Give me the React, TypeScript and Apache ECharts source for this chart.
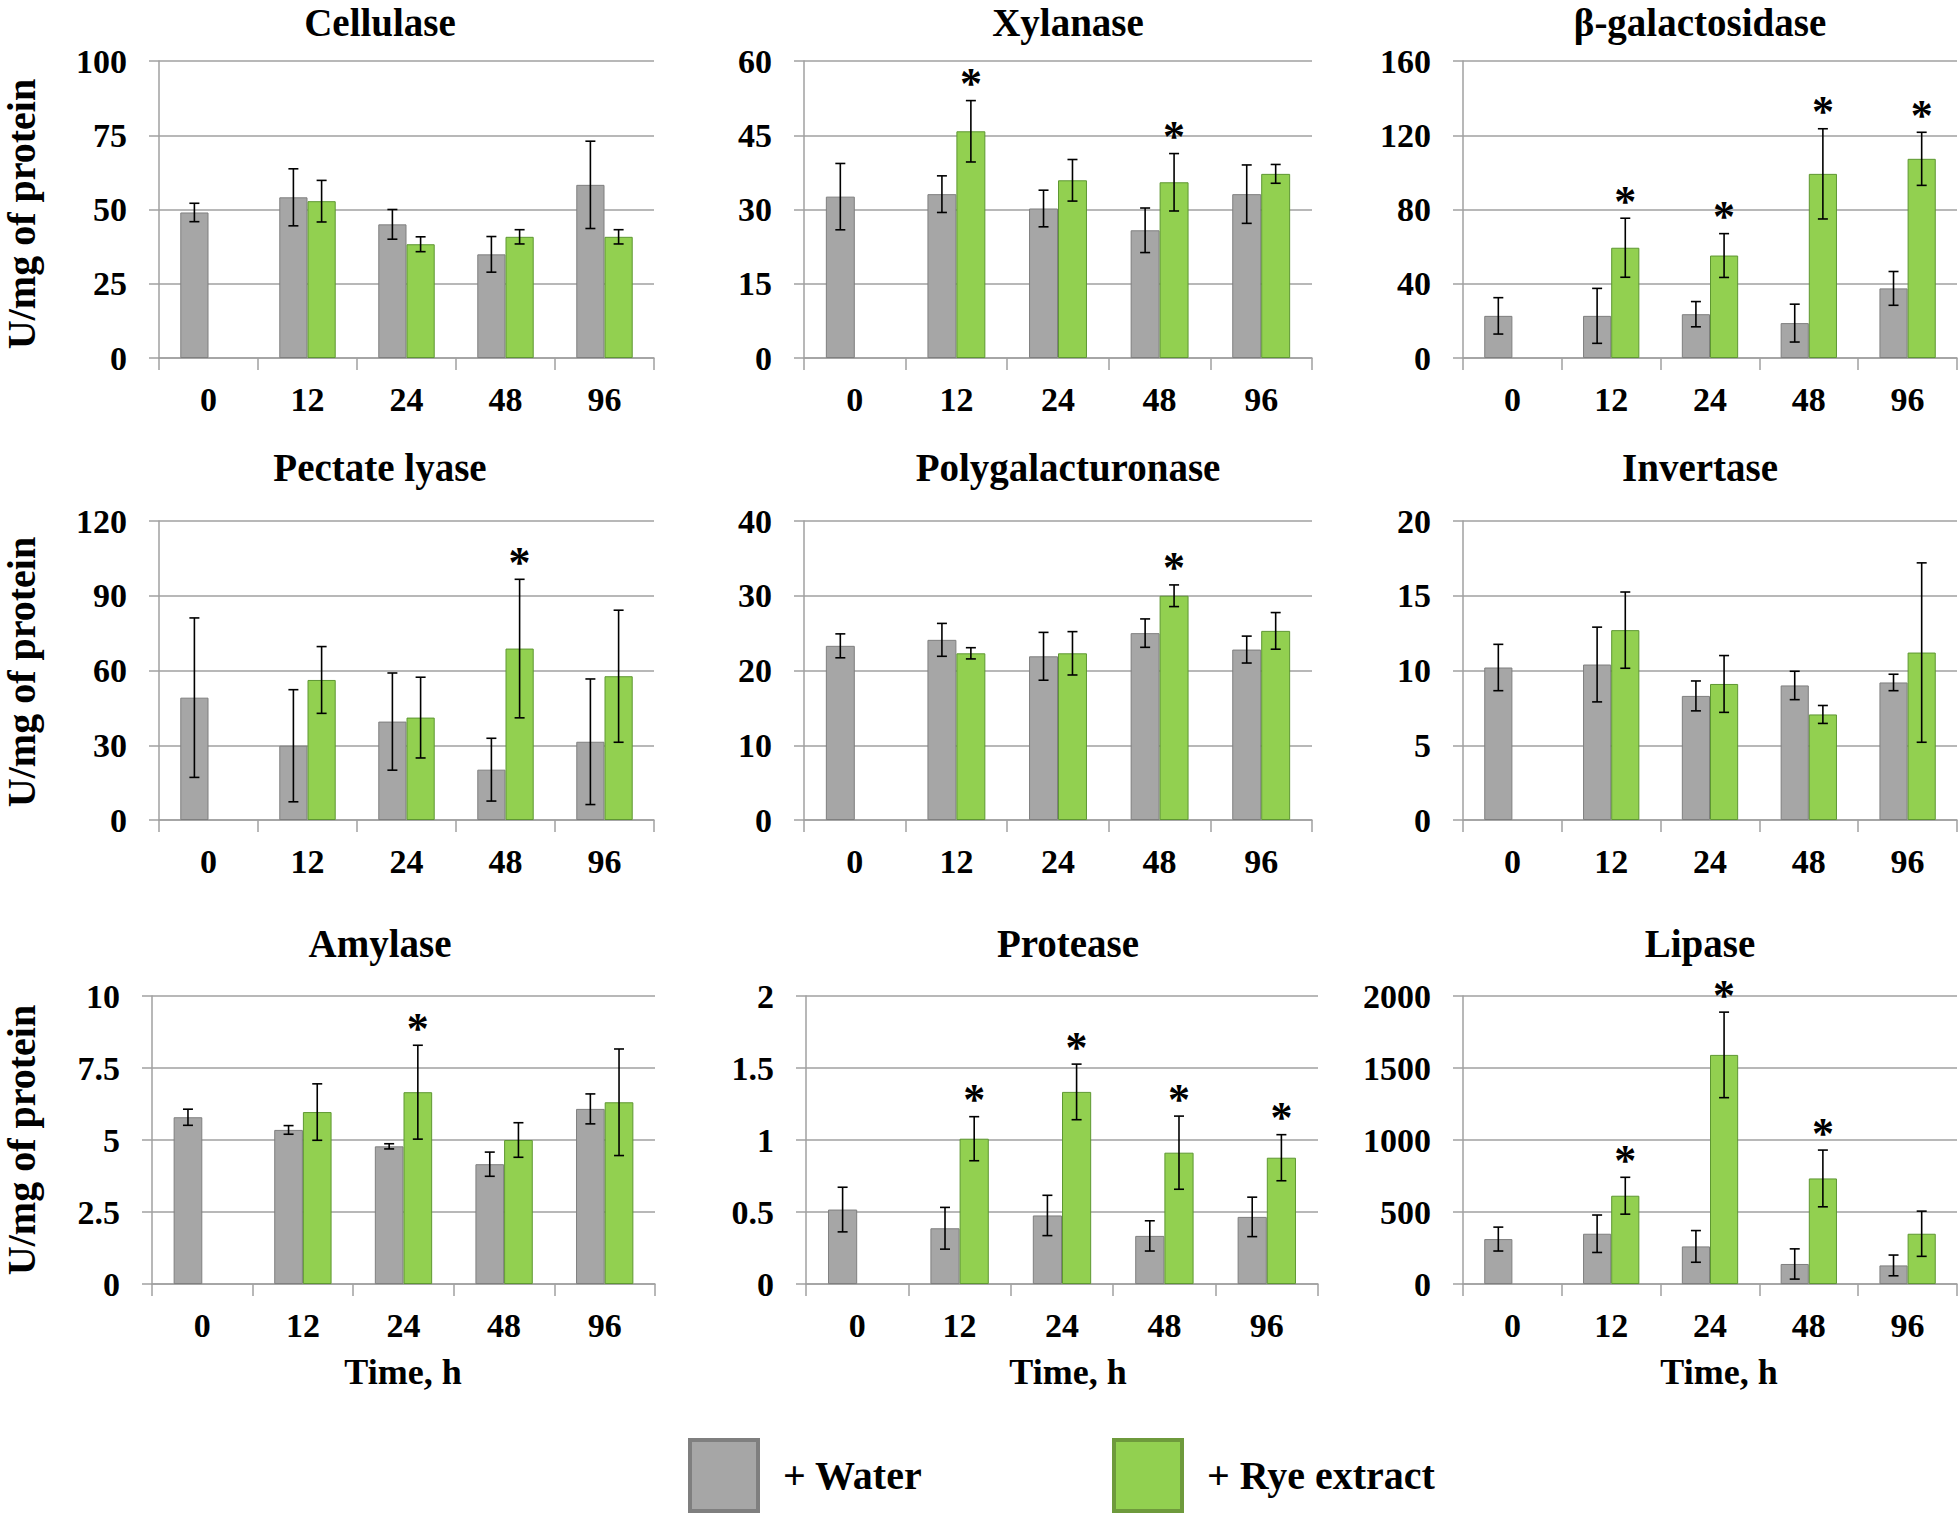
import React, { useEffect, useRef } from 'react';
import * as echarts from 'echarts';

// ---------- data ----------
const timeLabels = ['0', '12', '24', '48', '96'];
const enzymeNames = [
  'Cellulase', 'Xylanase', 'β-galactosidase',
  'Pectate lyase', 'Polygalacturonase', 'Invertase',
  'Amylase', 'Protease', 'Lipase',
];
const yMax = [100, 60, 160, 120, 40, 20, 10, 2, 2000];
const yInterval = [25, 15, 40, 30, 10, 5, 2.5, 0.5, 500];

const cellulaseWater = [49, 54.1, 45.0, 34.9, 58.3];
const cellulaseWaterErr = [3.1, 9.6, 5.0, 6.0, 14.7];
const cellulaseRye = [null, 52.8, 38.3, 40.8, 40.8];
const cellulaseRyeErr = [null, 7.0, 2.5, 2.4, 2.4];
const cellulaseSig = [0, 0, 0, 0, 0];

const xylanaseWater = [32.6, 33.1, 30.2, 25.8, 33.1];
const xylanaseWaterErr = [6.7, 3.7, 3.7, 4.5, 5.9];
const xylanaseRye = [null, 45.8, 35.9, 35.5, 37.2];
const xylanaseRyeErr = [null, 6.2, 4.2, 5.8, 1.9];
const xylanaseSig = [0, 1, 0, 1, 0];

const galWater = [22.7, 22.7, 23.6, 18.8, 37.5];
const galWaterErr = [9.8, 14.8, 6.8, 10.2, 9.1];
const galRye = [null, 59.4, 55.2, 99.2, 107.3];
const galRyeErr = [null, 15.9, 11.8, 24.3, 14.3];
const galSig = [0, 1, 1, 1, 1];

const pectateWater = [49.1, 29.8, 39.5, 20.2, 31.4];
const pectateWaterErr = [32, 22.5, 19.5, 12.6, 25.2];
const pectateRye = [null, 56.2, 41.1, 68.8, 57.7];
const pectateRyeErr = [null, 13.4, 16.2, 27.8, 26.5];
const pectateSig = [0, 0, 0, 1, 0];

const pgWater = [23.3, 24.1, 21.9, 25.0, 22.8];
const pgWaterErr = [1.6, 2.2, 3.2, 1.9, 1.8];
const pgRye = [null, 22.3, 22.3, 30.0, 25.3];
const pgRyeErr = [null, 0.75, 2.9, 1.45, 2.45];
const pgSig = [0, 0, 0, 1, 0];

const invertaseWater = [10.2, 10.4, 8.3, 9.0, 9.2];
const invertaseWaterErr = [1.55, 2.5, 1.0, 0.95, 0.55];
const invertaseRye = [null, 12.7, 9.1, 7.06, 11.2];
const invertaseRyeErr = [null, 2.55, 1.9, 0.6, 6.0];
const invertaseSig = [0, 0, 0, 0, 0];

const amylaseWater = [5.79, 5.35, 4.78, 4.16, 6.08];
const amylaseWaterErr = [0.28, 0.15, 0.09, 0.42, 0.52];
const amylaseRye = [null, 5.97, 6.66, 5.0, 6.31];
const amylaseRyeErr = [null, 0.98, 1.63, 0.6, 1.85];
const amylaseSig = [0, 0, 1, 0, 0];

const proteaseWater = [0.517, 0.387, 0.476, 0.334, 0.466];
const proteaseWaterErr = [0.155, 0.145, 0.14, 0.105, 0.137];
const proteaseRye = [null, 1.009, 1.334, 0.912, 0.877];
const proteaseRyeErr = [null, 0.153, 0.193, 0.254, 0.16];
const proteaseSig = [0, 1, 1, 1, 1];

const lipaseWater = [312, 349, 261, 139, 129];
const lipaseWaterErr = [83, 130, 110, 105, 72];
const lipaseRye = [null, 613, 1591, 733, 349];
const lipaseRyeErr = [null, 128, 297, 197, 157];
const lipaseSig = [0, 1, 1, 1, 0];

const seriesNames = ['+ Water', '+ Rye extract'];

const panelData = [
  [cellulaseWater, cellulaseWaterErr, cellulaseRye, cellulaseRyeErr, cellulaseSig],
  [xylanaseWater, xylanaseWaterErr, xylanaseRye, xylanaseRyeErr, xylanaseSig],
  [galWater, galWaterErr, galRye, galRyeErr, galSig],
  [pectateWater, pectateWaterErr, pectateRye, pectateRyeErr, pectateSig],
  [pgWater, pgWaterErr, pgRye, pgRyeErr, pgSig],
  [invertaseWater, invertaseWaterErr, invertaseRye, invertaseRyeErr, invertaseSig],
  [amylaseWater, amylaseWaterErr, amylaseRye, amylaseRyeErr, amylaseSig],
  [proteaseWater, proteaseWaterErr, proteaseRye, proteaseRyeErr, proteaseSig],
  [lipaseWater, lipaseWaterErr, lipaseRye, lipaseRyeErr, lipaseSig],
];

// ---------- layout / style ----------
const FONT = '"Liberation Serif", "Times New Roman", serif';
const GRAY = '#A6A6A6';
const GRAY_BORDER = '#7F7F7F';
const GREEN = '#92D050';
const GREEN_BORDER = '#5E9732';
const LINE = '#A0A0A0';

// per panel: left, width
const panelLeft = [159, 804, 1463, 159, 804, 1463, 152, 806, 1463];
const panelWidth = [495, 508, 494, 495, 508, 494, 503, 512, 494];
const rowTop = [61, 521, 996];
const rowHeight = [297, 299, 288];
const titleX = [380, 1068, 1700];
const titleTop = [5, 450, 926];
const yNameY = [214, 672, 1140];
const CAT_GAP = 0.43;

function renderErr(params: any, api: any) {
  const cat = api.value(0);
  const lo = api.value(1);
  const hi = api.value(2);
  const s = api.value(3);
  const sig = api.value(4);
  const band = api.size([1, 0])[0];
  const bw = (band * (1 - CAT_GAP)) / 2;
  const pHi = api.coord([cat, hi]);
  const pLo = api.coord([cat, lo]);
  const x = pHi[0] + (s === 0 ? -bw / 2 : bw / 2);
  const cap = 5;
  const st = { stroke: '#000', lineWidth: 1.6 };
  const children: any[] = [
    { type: 'line', shape: { x1: x, y1: pHi[1], x2: x, y2: pLo[1] }, style: st },
    { type: 'line', shape: { x1: x - cap, y1: pHi[1], x2: x + cap, y2: pHi[1] }, style: st },
    { type: 'line', shape: { x1: x - cap, y1: pLo[1], x2: x + cap, y2: pLo[1] }, style: st },
  ];
  if (sig) {
    children.push({
      type: 'text',
      x: x,
      y: pHi[1] - 17,
      style: {
        text: '*',
        font: 'bold 44px "Liberation Serif"',
        fill: '#000',
        align: 'center',
        verticalAlign: 'middle',
        textAlign: 'center',
        textVerticalAlign: 'middle',
      },
    });
  }
  return { type: 'group', children };
}

function buildOption() {
  const grid: any[] = [];
  const xAxis: any[] = [];
  const yAxis: any[] = [];
  const series: any[] = [];
  const title: any[] = [];
  const graphic: any[] = [];

  panelData.forEach((pd, i) => {
    const row = Math.floor(i / 3);
    const col = i % 3;
    const [water, waterErr, rye, ryeErr, sig] = pd as any[];
    grid.push({
      left: panelLeft[i],
      top: rowTop[row],
      width: panelWidth[i],
      height: rowHeight[row],
      containLabel: false,
    });
    xAxis.push({
      type: 'category',
      gridIndex: i,
      data: timeLabels,
      axisLine: { show: true, lineStyle: { color: LINE, width: 1.5 } },
      axisTick: { show: true, length: 12, lineStyle: { color: LINE, width: 1.5 } },
      axisLabel: {
        margin: 24,
        fontFamily: FONT,
        fontWeight: 'bold',
        fontSize: 34,
        color: '#000',
      },
    });
    yAxis.push({
      type: 'value',
      gridIndex: i,
      min: 0,
      max: yMax[i],
      interval: yInterval[i],
      axisLine: { show: true, lineStyle: { color: LINE, width: 1.5 } },
      axisTick: { show: true, length: 10, lineStyle: { color: LINE, width: 1.5 } },
      splitLine: { show: true, lineStyle: { color: LINE, width: 1.5 } },
      axisLabel: {
        margin: 32,
        fontFamily: FONT,
        fontWeight: 'bold',
        fontSize: 34,
        color: '#000',
        formatter: (v: number) => String(v),
      },
    });
    series.push({
      type: 'bar',
      name: seriesNames[0],
      xAxisIndex: i,
      yAxisIndex: i,
      data: water,
      barGap: '0%',
      barCategoryGap: CAT_GAP * 100 + '%',
      itemStyle: { color: GRAY, borderColor: GRAY_BORDER, borderWidth: 1 },
    });
    series.push({
      type: 'bar',
      name: seriesNames[1],
      xAxisIndex: i,
      yAxisIndex: i,
      data: rye.map((v: any) => (v === null ? '-' : v)),
      barGap: '0%',
      barCategoryGap: CAT_GAP * 100 + '%',
      itemStyle: { color: GREEN, borderColor: GREEN_BORDER, borderWidth: 1 },
    });
    const errData: any[] = [];
    for (let k = 0; k < timeLabels.length; k++) {
      errData.push([k, water[k] - waterErr[k], water[k] + waterErr[k], 0, 0]);
      if (rye[k] !== null) {
        errData.push([k, rye[k] - ryeErr[k], rye[k] + ryeErr[k], 1, sig[k]]);
      }
    }
    series.push({
      type: 'custom',
      name: 'err' + i,
      xAxisIndex: i,
      yAxisIndex: i,
      renderItem: renderErr,
      encode: { x: 0, y: [1, 2] },
      data: errData,
      z: 10,
      silent: true,
    });
    title.push({
      text: enzymeNames[i],
      left: titleX[col],
      top: titleTop[row],
      textAlign: 'center',
      padding: 0,
      textStyle: {
        fontFamily: FONT,
        fontWeight: 'bold',
        fontSize: 39,
        lineHeight: 34,
        color: '#000',
      },
    });
  });

  for (let r = 0; r < 3; r++) {
    graphic.push({
      type: 'text',
      x: 21,
      y: yNameY[r],
      rotation: Math.PI / 2,
      style: {
        text: 'U/mg of protein',
        font: 'bold 40px "Liberation Serif"',
        lineHeight: 34,
        fill: '#000',
        align: 'center',
        verticalAlign: 'middle',
        textAlign: 'center',
        textVerticalAlign: 'middle',
      },
    });
  }
  for (let c = 0; c < 3; c++) {
    graphic.push({
      type: 'text',
      x: titleX[c] + (c === 0 ? 23 : c === 2 ? 19 : 0),
      y: 1372,
      style: {
        text: 'Time, h',
        font: 'bold 36px "Liberation Serif"',
        fill: '#000',
        align: 'center',
        verticalAlign: 'middle',
        textAlign: 'center',
        textVerticalAlign: 'middle',
      },
    });
  }

  const legendText = {
    fontFamily: FONT,
    fontWeight: 'bold',
    fontSize: 40,
    color: '#000',
    padding: [0, 0, 0, 20],
  };
  const legend = [
    {
      data: [{ name: seriesNames[0], itemStyle: { color: GRAY, borderColor: GRAY_BORDER, borderWidth: 4 } }],
      left: 688,
      top: 1438,
      padding: 0,
      itemWidth: 68,
      itemHeight: 71,
      icon: 'rect',
      selectedMode: false,
      textStyle: legendText,
    },
    {
      data: [{ name: seriesNames[1], itemStyle: { color: GREEN, borderColor: '#6E9A3C', borderWidth: 4 } }],
      left: 1112,
      top: 1438,
      padding: 0,
      itemWidth: 68,
      itemHeight: 71,
      icon: 'rect',
      selectedMode: false,
      textStyle: legendText,
    },
  ];

  return {
    animation: false,
    backgroundColor: '#ffffff',
    title,
    grid,
    xAxis,
    yAxis,
    series,
    legend,
    graphic,
  };
}

export default function App() {
  const ref = useRef<HTMLDivElement>(null);
  useEffect(() => {
    const chart = echarts.init(ref.current as HTMLDivElement, null, { renderer: 'svg' });
    chart.setOption(buildOption() as any);
    return () => chart.dispose();
  }, []);
  return (
    <div
      ref={ref}
      style={{ position: 'absolute', left: 0, top: 0, width: 1959, height: 1516 }}
    />
  );
}
